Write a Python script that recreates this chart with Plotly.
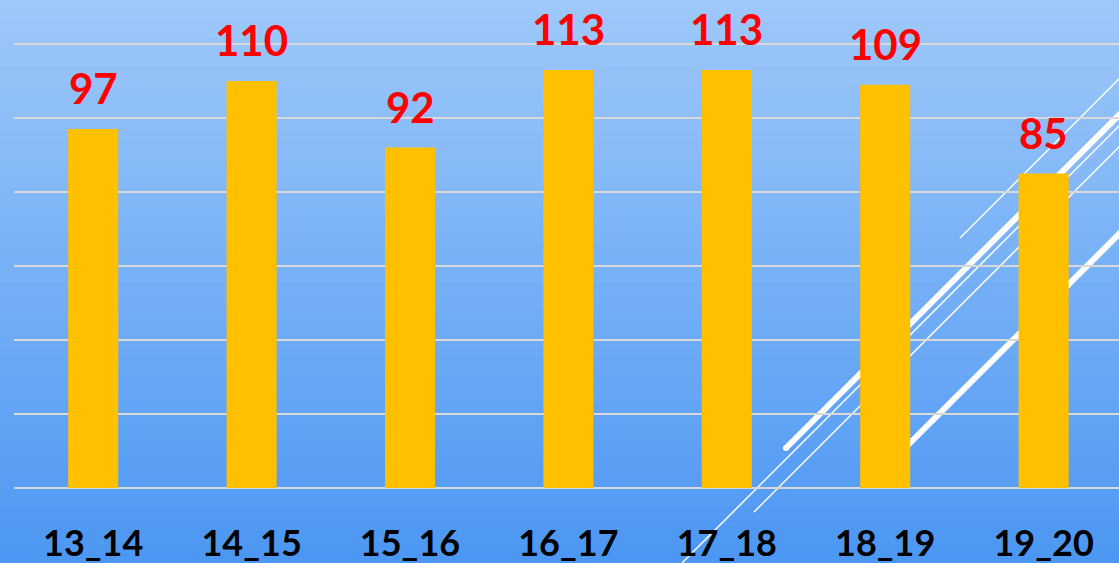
import plotly.graph_objects as go

categories = ["13_14", "14_15", "15_16", "16_17", "17_18", "18_19", "19_20"]
values = [97, 110, 92, 113, 113, 109, 85]

W, H = 1119, 563
L, B = 14, 75
PW, PH = W - L, H - B

def pp(x, y):
    return (x - L) / PW, (PH - y) / PH

shapes = []
# gradient background
top = (158, 200, 249)
bot = (76, 151, 243)
N = 60
for i in range(N):
    t = i / (N - 1)
    c = tuple(round(top[k] + (bot[k] - top[k]) * t) for k in range(3))
    y0 = H * i / N
    y1 = H * (i + 1) / N + 1
    _, py0 = pp(0, y0)
    _, py1 = pp(0, y1)
    shapes.append(dict(type="rect", xref="paper", yref="paper", x0=-0.05, x1=1.05,
                       y0=py1, y1=py0, fillcolor="rgb(%d,%d,%d)" % c,
                       line=dict(width=0), layer="below"))

# decorative white diagonal lines
deco = [
    ((960, 238), (1140, 58), 1.5),
    ((786, 448), (1140, 94), 6),
    ((682, 563), (1140, 105), 1.5),
    ((754, 512), (1140, 126), 1.5),
    ((890, 463), (1140, 213), 6),
]
for (x0, y0), (x1, y1), w in deco:
    a0, b0 = pp(x0, y0)
    a1, b1 = pp(x1, y1)
    shapes.append(dict(type="line", xref="paper", yref="paper", x0=a0, y0=b0, x1=a1, y1=b1,
                       line=dict(color="white", width=w), layer="below"))
cx0, cy0 = pp(783, 445)
cx1, cy1 = pp(789, 451)
shapes.append(dict(type="circle", xref="paper", yref="paper", x0=cx0, y0=cy1, x1=cx1, y1=cy0,
                   fillcolor="white", line=dict(width=0), layer="below"))

fig = go.Figure()
fig.add_trace(go.Bar(x=categories, y=values, marker=dict(color="#FFC000", line=dict(width=0)),
                     width=0.316, hoverinfo="skip"))

annotations = [dict(x=c, y=v, text=str(v), showarrow=False, yanchor="bottom", yshift=14,
                    font=dict(family="Lato", size=42, color="#FF0000", weight="bold"))
               for c, v in zip(categories, values)]

fig.update_layout(
    width=W, height=H,
    margin=dict(l=L, r=0, t=0, b=B, pad=0),
    paper_bgcolor="rgba(0,0,0,0)", plot_bgcolor="rgba(0,0,0,0)",
    shapes=shapes, annotations=annotations, showlegend=False,
    xaxis=dict(range=[-0.5, -0.5 + PW / 158.4], showgrid=False, zeroline=False, showline=False,
               ticks="", ticklabelstandoff=31,
               tickfont=dict(family="Lato", size=36, color="black", weight="bold")),
    yaxis=dict(range=[0, PH / 3.7], dtick=20, showgrid=True, gridcolor="#D9D9D9", gridwidth=2,
               zeroline=True, zerolinecolor="#D9D9D9", zerolinewidth=2,
               showticklabels=False, ticks="", showline=False),
)

fig.write_html("out.html", config={"displayModeBar": False},
               post_script="document.body.style.margin='0';document.body.style.overflow='hidden';")
